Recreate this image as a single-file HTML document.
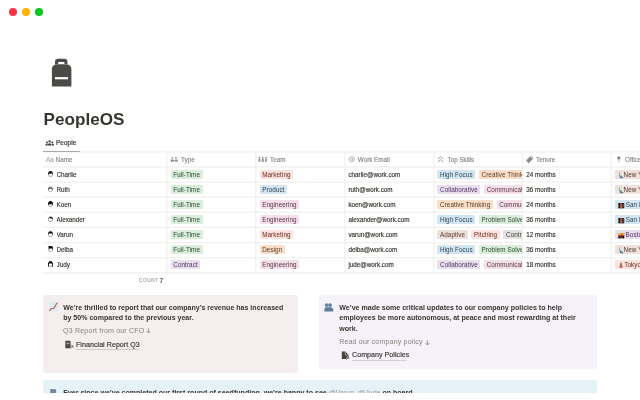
<!DOCTYPE html>
<html><head><meta charset="utf-8">
<style>
*{box-sizing:border-box;margin:0;padding:0}
html,body{width:640px;height:400px;overflow:hidden;background:#fff}
body{position:relative;font-family:"Liberation Sans",Arial,sans-serif;color:#37352f}
.a{position:absolute}
.dot{position:absolute;width:8px;height:8px;border-radius:50%;top:8.1px}
.title{position:absolute;left:43.6px;top:109px;font-size:17.1px;font-weight:bold;line-height:22px;color:#37352f;white-space:nowrap}
.tab{position:absolute;left:45px;top:137px;height:12px;font-size:6.3px;line-height:12px;white-space:nowrap;-webkit-text-stroke:0.2px #37352f;letter-spacing:0.12px}
.hline{position:absolute;left:0;height:1px;background:#eeeeed}
.hl{position:absolute;height:1px;background:#ededeb}
.vl{position:absolute;width:1px;background:#ededeb}
.vline{position:absolute;width:1px;background:#eeeeed}
.row{position:absolute;left:42.67px;width:600px;height:15.07px}
.c{position:absolute;top:0;height:15.07px;overflow:hidden;white-space:nowrap;font-size:6.3px;line-height:15.07px;-webkit-text-stroke:0.15px currentColor}
.hdt{font-size:6.3px;line-height:15px;color:#85847f;white-space:nowrap;-webkit-text-stroke:0.12px #85847f}
.tg{display:inline-block;height:8.9px;line-height:8.9px;padding:0.9px 2.67px 0;border-radius:1.33px;margin-right:3.6px;vertical-align:top;margin-top:3.05px;font-size:6.3px}
.tg{-webkit-text-stroke:0px;letter-spacing:0.08px}
.green{background:#dbeddb;color:#2a4535}
.red{background:#ffe2dd;color:#6a2a26}
.blue{background:#d3e5ef;color:#2a4558}
.pink{background:#f5e0e9;color:#5a3346}
.purple{background:#e8deee;color:#4f3562}
.orange{background:#fadec9;color:#583a22}
.brown{background:#eee0da;color:#543a2e}
.gray{background:#e3e2e0;color:#42403c}
.hic{display:inline-block;vertical-align:top;margin-top:4.7px;margin-right:2.1px}
.aa{font-size:6.6px;color:#b9b8b5}
.emo{display:inline-block;vertical-align:top}
.av{display:inline-block;vertical-align:top;margin-top:4.6px;margin-left:1.4px;margin-right:3.2px}
.em{display:inline-block;width:4px;height:5.2px;vertical-align:top;margin-top:1.8px;margin-right:1.3px}
.ny{background:linear-gradient(160deg,#7fb2c9 0 30%,#3f7f9e 30% 100%);width:2.6px;margin-left:0.6px;border-radius:0.5px}
.sf{background:#6b3a2a;box-shadow:inset 0 0 0 0.6px #3a2a2a}
.bos{background:linear-gradient(#f0a040 0 45%,#7a3a3a 45% 100%)}
.tk{background:linear-gradient(#c0492f,#8a3a2a);width:2.4px;margin-left:0.8px;clip-path:polygon(50% 0,100% 100%,0 100%)}
.callout{position:absolute;border-radius:1.8px}
.ct{position:absolute;font-size:7.05px;line-height:10.5px;font-weight:bold;color:#37352f;white-space:nowrap}
.cg{position:absolute;font-size:7.05px;line-height:10.5px;color:#858480;white-space:nowrap;letter-spacing:0.17px}
.arr{display:inline-block;vertical-align:top;margin-top:2.8px;margin-left:-0.2px}
.cl{position:absolute;font-size:7.05px;line-height:10.5px;color:#37352f;white-space:nowrap;-webkit-text-stroke:0.15px currentColor;letter-spacing:0.06px}
</style></head><body>
<div class="dot" style="left:8.7px;background:#ff3447"></div>
<div class="dot" style="left:22px;background:#ffb300"></div>
<div class="dot" style="left:35.3px;background:#00c81e"></div>

<!-- backpack icon -->
<svg class="a" style="left:0;top:0" width="100" height="100" viewBox="0 0 100 100">
  <path fill="#4b4a46" d="M58 58.7h6.4a3 3 0 0 1 3 3V64.6H55V61.7a3 3 0 0 1 3-3z"/>
  <path fill="#4b4a46" d="M56.6 64.4h10.2a4.6 4.6 0 0 1 4.6 4.6V86.5H51.9V69a4.6 4.6 0 0 1 4.6-4.6z"/>
  <rect x="58" y="62" width="6.6" height="2.1" rx="1" fill="#fff"/>
  <rect x="55" y="77.1" width="13" height="2.2" fill="#fff"/>
</svg>

<div class="title">PeopleOS</div>

<svg class="a" style="left:45px;top:139.6px" width="10" height="6" viewBox="0 0 10 6">
 <circle cx="4.6" cy="1.45" r="1.15" fill="#37352f"/>
 <circle cx="2.0" cy="2.5" r="0.95" fill="#37352f"/>
 <circle cx="7.3" cy="2.5" r="0.95" fill="#37352f"/>
 <path d="M2.9 5.5Q2.9 3.2 4.6 3.2Q6.4 3.2 6.4 5.5z" fill="#37352f"/>
 <path d="M0.3 5.5Q0.3 3.8 1.9 3.7Q2.9 3.8 2.8 5.5z" fill="#37352f"/>
 <path d="M6.5 5.5Q6.5 3.8 7.5 3.7Q9.1 3.8 9.1 5.5z" fill="#37352f"/>
</svg>
<div class="tab" style="left:56px">People</div>
<div class="a" style="left:42.7px;top:150.8px;width:37.1px;height:1.4px;background:#37352f"></div>

<div class="hl" style="top:151px;left:43px;width:597px;opacity:0.63"></div><div class="hl" style="top:152px;left:43px;width:597px;opacity:0.42"></div>
<div class="hl" style="top:166px;left:43px;width:597px;opacity:0.53"></div><div class="hl" style="top:167px;left:43px;width:597px;opacity:0.53"></div>
<div class="hl" style="top:181px;left:43px;width:597px;opacity:0.46"></div><div class="hl" style="top:182px;left:43px;width:597px;opacity:0.59"></div>
<div class="hl" style="top:196px;left:43px;width:597px;opacity:0.40"></div><div class="hl" style="top:197px;left:43px;width:597px;opacity:0.65"></div>
<div class="hl" style="top:211px;left:43px;width:597px;opacity:0.34"></div><div class="hl" style="top:212px;left:43px;width:597px;opacity:0.71"></div>
<div class="hl" style="top:226px;left:43px;width:597px;opacity:0.28"></div><div class="hl" style="top:227px;left:43px;width:597px;opacity:0.77"></div>
<div class="hl" style="top:242px;left:43px;width:597px;opacity:0.77"></div><div class="hl" style="top:243px;left:43px;width:597px;opacity:0.28"></div>
<div class="hl" style="top:257px;left:43px;width:597px;opacity:0.71"></div><div class="hl" style="top:258px;left:43px;width:597px;opacity:0.34"></div>
<div class="hl" style="top:272px;left:43px;width:597px;opacity:0.65"></div><div class="hl" style="top:273px;left:43px;width:597px;opacity:0.40"></div>
<div class="vl" style="left:166px;top:152px;height:121px;opacity:0.69"></div><div class="vl" style="left:167px;top:152px;height:121px;opacity:0.36"></div>
<div class="vl" style="left:255px;top:152px;height:121px;opacity:0.66"></div><div class="vl" style="left:256px;top:152px;height:121px;opacity:0.39"></div>
<div class="vl" style="left:344px;top:152px;height:121px;opacity:0.74"></div><div class="vl" style="left:345px;top:152px;height:121px;opacity:0.31"></div>
<div class="vl" style="left:433px;top:152px;height:121px;opacity:0.69"></div><div class="vl" style="left:434px;top:152px;height:121px;opacity:0.36"></div>
<div class="vl" style="left:521px;top:152px;height:121px;opacity:0.31"></div><div class="vl" style="left:522px;top:152px;height:121px;opacity:0.74"></div>
<div class="vl" style="left:610px;top:152px;height:121px;opacity:0.36"></div><div class="vl" style="left:611px;top:152px;height:121px;opacity:0.69"></div>
<div class="a hdt" style="left:45.9px;top:152.0px"><span class="aa">Aa</span></div>
<div class="a hdt" style="left:55.6px;top:152.0px">Name</div>
<div class="a" style="left:169.9px;top:155.9px;line-height:0"><svg width="9" height="8" viewBox="0 0 9 8"><circle cx="2.35" cy="1.85" r="0.9" fill="#8c8b87"/><circle cx="5.95" cy="1.85" r="0.9" fill="#8c8b87"/><rect x="0.6" y="3.6" width="3.4" height="2.2" rx="0.8" fill="#8c8b87"/><rect x="4.6" y="3.6" width="3.1" height="2.2" rx="0.8" fill="#8c8b87"/></svg></div>
<div class="a hdt" style="left:181.0px;top:152.0px">Type</div>
<div class="a" style="left:258.4px;top:155.9px;line-height:0"><svg width="10" height="8" viewBox="0 0 10 8"><circle cx="1.5" cy="1.7" r="0.85" fill="#8c8b87"/><rect x="0.6" y="2.8" width="1.8" height="3" rx="0.6" fill="#8c8b87"/><circle cx="4.8" cy="1.7" r="0.85" fill="#8c8b87"/><rect x="3.9" y="2.8" width="1.8" height="2.3" rx="0.6" fill="#8c8b87"/><rect x="3.3" y="5.1" width="3" height="0.7" fill="#8c8b87"/><circle cx="8" cy="1.7" r="0.85" fill="#8c8b87"/><rect x="7.1" y="2.8" width="1.8" height="3" rx="0.6" fill="#8c8b87"/></svg></div>
<div class="a hdt" style="left:270.0px;top:152.0px">Team</div>
<div class="a" style="left:348.3px;top:155.9px;line-height:0"><svg width="9" height="8" viewBox="0 0 9 8"><circle cx="3.6" cy="3.3" r="2.75" fill="none" stroke="#a9a8a5" stroke-width="0.75"/><circle cx="3.6" cy="3.3" r="1.05" fill="none" stroke="#a9a8a5" stroke-width="0.7"/><path d="M4.65 2.4V3.9Q4.7 4.7 5.6 4.4" fill="none" stroke="#a9a8a5" stroke-width="0.6"/></svg></div>
<div class="a hdt" style="left:357.8px;top:152.0px">Work Email</div>
<div class="a" style="left:437.2px;top:155.9px;line-height:0"><svg width="9" height="8" viewBox="0 0 9 8"><path d="M0.9 3.1L3.6 0.6L6.3 3.1M0.9 6.1L3.6 3.6L6.3 6.1" fill="none" stroke="#8c8b87" stroke-width="0.85"/></svg></div>
<div class="a hdt" style="left:447.5px;top:152.0px">Top Skills</div>
<div class="a" style="left:526.0px;top:155.9px;line-height:0"><svg width="9" height="8" viewBox="0 0 9 8"><path d="M3.6 0.5L6.3 0.5L6.3 3.2L2.8 6.7Q2.3 7.2 1.8 6.7L0.1 5Q-0.4 4.5 0.1 4z" fill="#8c8b87" transform="translate(0.4,0)"/><circle cx="5.5" cy="1.5" r="0.55" fill="#fff"/></svg></div>
<div class="a hdt" style="left:536.0px;top:152.0px">Tenure</div>
<div class="a" style="left:616.6px;top:155.9px;line-height:0"><svg width="9" height="8" viewBox="0 0 9 8"><circle cx="1.9" cy="1.9" r="1.65" fill="#8c8b87"/><rect x="1.6" y="3" width="0.6" height="3.5" fill="#8c8b87"/></svg></div>
<div class="a hdt" style="left:625.0px;top:152.0px">Office</div>
<div class="row" style="top:167.00px"><div class="c" style="left:13.9px;width:100px"><span class="nm">Charlie</span></div><div class="c" style="left:127.99px;width:85.04px"><span class="tg green">Full-Time</span></div><div class="c" style="left:216.89px;width:85.04px"><span class="tg red">Marketing</span></div><div class="c" style="left:305.79px;width:85.04px">charlie@work.com</div><div class="c" style="left:394.69px;width:85.04px"><span class="tg blue">High Focus</span><span class="tg orange">Creative Thinking</span></div><div class="c" style="left:483.59px;width:85.04px">24 months</div><div class="c" style="left:572.49px;width:85.04px"><span class="tg brown"><svg class="emo" width="5.8" height="7" viewBox="0 0 5.8 7" style="margin-top:1.1px"><rect x="1.05" y="0.2" width="0.9" height="3.6" rx="0.3" fill="#6fb894"/><path d="M1.6 3.2C2.6 3 3.4 3.6 3.7 4.4L5.3 5.3L5.1 6.3H2.1C1.8 5.3 1.6 4.2 1.6 3.2z" fill="#4b7f9c"/><circle cx="2.6" cy="3.6" r="0.6" fill="#7fb6c8"/></svg>New York</span></div></div>
<svg class="a" style="left:47.6px;top:171.30px" width="5" height="6" viewBox="0 0 5 6"><ellipse cx="2.5" cy="3.2" rx="2.1" ry="2.5" fill="#fff" stroke="#555" stroke-width="0.5"/><path d="M0.2 3.8C-0.1 1.1 1.1 0.1 2.5 0.1S5.1 1.1 4.8 3.8L4.3 3.2C3.9 2.9 3.6 2.6 3.4 2.3C2.6 2.8 1.6 3 0.7 3.1z" fill="#111"/></svg>
<div class="row" style="top:182.00px"><div class="c" style="left:13.9px;width:100px"><span class="nm">Ruth</span></div><div class="c" style="left:127.99px;width:85.04px"><span class="tg green">Full-Time</span></div><div class="c" style="left:216.89px;width:85.04px"><span class="tg blue">Product</span></div><div class="c" style="left:305.79px;width:85.04px">ruth@work.com</div><div class="c" style="left:394.69px;width:85.04px"><span class="tg purple">Collaborative</span><span class="tg pink">Communication</span></div><div class="c" style="left:483.59px;width:85.04px">36 months</div><div class="c" style="left:572.49px;width:85.04px"><span class="tg brown"><svg class="emo" width="5.8" height="7" viewBox="0 0 5.8 7" style="margin-top:1.1px"><rect x="1.05" y="0.2" width="0.9" height="3.6" rx="0.3" fill="#6fb894"/><path d="M1.6 3.2C2.6 3 3.4 3.6 3.7 4.4L5.3 5.3L5.1 6.3H2.1C1.8 5.3 1.6 4.2 1.6 3.2z" fill="#4b7f9c"/><circle cx="2.6" cy="3.6" r="0.6" fill="#7fb6c8"/></svg>New York</span></div></div>
<svg class="a" style="left:47.6px;top:186.30px" width="5" height="6" viewBox="0 0 5 6"><ellipse cx="2.5" cy="3.2" rx="2.1" ry="2.5" fill="#fff" stroke="#555" stroke-width="0.5"/><path d="M0.3 2.6C0.7 1 4.3 1 4.7 2.6L4.8 4.4L4.1 3.1C3 2.4 2 2.4 0.9 3.1L0.2 4.4z" fill="#333"/></svg>
<div class="row" style="top:197.00px"><div class="c" style="left:13.9px;width:100px"><span class="nm">Koen</span></div><div class="c" style="left:127.99px;width:85.04px"><span class="tg green">Full-Time</span></div><div class="c" style="left:216.89px;width:85.04px"><span class="tg pink">Engineering</span></div><div class="c" style="left:305.79px;width:85.04px">koen@work.com</div><div class="c" style="left:394.69px;width:85.04px"><span class="tg orange">Creative Thinking</span><span class="tg pink">Communication</span></div><div class="c" style="left:483.59px;width:85.04px">24 months</div><div class="c" style="left:572.49px;width:85.04px"><span class="tg blue"><svg class="emo" width="7.9" height="7" viewBox="0 0 7.9 7" style="margin-top:1.7px"><rect x="0.25" y="0.05" width="6" height="5.3" rx="0.5" fill="#2b1d1a"/><rect x="2.2" y="0.5" width="2.1" height="4.8" fill="#c25a3c"/><rect x="0.3" y="1.6" width="0.7" height="2.4" fill="#5a86a8"/><rect x="5.5" y="1.6" width="0.7" height="2.4" fill="#5a86a8"/></svg>San Francisco</span></div></div>
<svg class="a" style="left:47.6px;top:201.30px" width="5" height="6" viewBox="0 0 5 6"><ellipse cx="2.5" cy="3.2" rx="2.1" ry="2.5" fill="#fff" stroke="#555" stroke-width="0.5"/><path d="M0.1 4.2C-0.2 1.2 1.1 0 2.5 0S5.2 1.2 4.9 4.2L4.4 3.4C3.4 3.2 1.6 3.2 0.6 3.4z" fill="#0a0a0a"/></svg>
<div class="row" style="top:212.00px"><div class="c" style="left:13.9px;width:100px"><span class="nm">Alexander</span></div><div class="c" style="left:127.99px;width:85.04px"><span class="tg green">Full-Time</span></div><div class="c" style="left:216.89px;width:85.04px"><span class="tg pink">Engineering</span></div><div class="c" style="left:305.79px;width:85.04px">alexander@work.com</div><div class="c" style="left:394.69px;width:85.04px"><span class="tg blue">High Focus</span><span class="tg green">Problem Solver</span></div><div class="c" style="left:483.59px;width:85.04px">36 months</div><div class="c" style="left:572.49px;width:85.04px"><span class="tg blue"><svg class="emo" width="7.9" height="7" viewBox="0 0 7.9 7" style="margin-top:1.7px"><rect x="0.25" y="0.05" width="6" height="5.3" rx="0.5" fill="#2b1d1a"/><rect x="2.2" y="0.5" width="2.1" height="4.8" fill="#c25a3c"/><rect x="0.3" y="1.6" width="0.7" height="2.4" fill="#5a86a8"/><rect x="5.5" y="1.6" width="0.7" height="2.4" fill="#5a86a8"/></svg>San Francisco</span></div></div>
<svg class="a" style="left:47.6px;top:216.30px" width="5" height="6" viewBox="0 0 5 6"><ellipse cx="2.5" cy="3.2" rx="2.1" ry="2.5" fill="#fff" stroke="#555" stroke-width="0.5"/><path d="M0.8 2.4C1.2 0.9 3.8 0.5 4.7 2L4.8 3.2C3.6 2.3 2.2 2.2 0.8 2.4z" fill="#111"/></svg>
<div class="row" style="top:227.00px"><div class="c" style="left:13.9px;width:100px"><span class="nm">Varun</span></div><div class="c" style="left:127.99px;width:85.04px"><span class="tg green">Full-Time</span></div><div class="c" style="left:216.89px;width:85.04px"><span class="tg red">Marketing</span></div><div class="c" style="left:305.79px;width:85.04px">varun@work.com</div><div class="c" style="left:394.69px;width:85.04px"><span class="tg brown">Adaptive</span><span class="tg red">Pitching</span><span class="tg gray">Contract</span></div><div class="c" style="left:483.59px;width:85.04px">12 months</div><div class="c" style="left:572.49px;width:85.04px"><span class="tg purple"><svg class="emo" width="7.8" height="7" viewBox="0 0 7.8 7" style="margin-top:1.7px"><rect x="0.25" y="0.05" width="6" height="5.3" rx="0.5" fill="#5b2b1c"/><rect x="0.25" y="0.05" width="3.2" height="2.2" fill="#fbc22a"/><rect x="3.4" y="0.05" width="2.85" height="2.2" fill="#f6a02e"/><rect x="2.6" y="0.5" width="1.5" height="1.5" fill="#f2607a"/><rect x="0.25" y="2.2" width="1" height="1" fill="#e9506a"/><rect x="0.6" y="4" width="1.2" height="1.3" fill="#1a1010"/><rect x="4.6" y="3.4" width="1.4" height="1.9" fill="#1a1010"/></svg>Boston</span></div></div>
<svg class="a" style="left:47.6px;top:231.30px" width="5" height="6" viewBox="0 0 5 6"><ellipse cx="2.5" cy="3.2" rx="2.1" ry="2.5" fill="#fff" stroke="#555" stroke-width="0.5"/><path d="M0.2 3.7C0 1.1 1.1 0.2 2.5 0.2S5 1.1 4.8 3.7L4.2 2.8C3 2.5 2 2.5 0.8 2.8z" fill="#0d0d0d"/></svg>
<div class="row" style="top:242.00px"><div class="c" style="left:13.9px;width:100px"><span class="nm">Delba</span></div><div class="c" style="left:127.99px;width:85.04px"><span class="tg green">Full-Time</span></div><div class="c" style="left:216.89px;width:85.04px"><span class="tg orange">Design</span></div><div class="c" style="left:305.79px;width:85.04px">delba@work.com</div><div class="c" style="left:394.69px;width:85.04px"><span class="tg blue">High Focus</span><span class="tg green">Problem Solver</span></div><div class="c" style="left:483.59px;width:85.04px">36 months</div><div class="c" style="left:572.49px;width:85.04px"><span class="tg brown"><svg class="emo" width="5.8" height="7" viewBox="0 0 5.8 7" style="margin-top:1.1px"><rect x="1.05" y="0.2" width="0.9" height="3.6" rx="0.3" fill="#6fb894"/><path d="M1.6 3.2C2.6 3 3.4 3.6 3.7 4.4L5.3 5.3L5.1 6.3H2.1C1.8 5.3 1.6 4.2 1.6 3.2z" fill="#4b7f9c"/><circle cx="2.6" cy="3.6" r="0.6" fill="#7fb6c8"/></svg>New York</span></div></div>
<svg class="a" style="left:47.6px;top:246.30px" width="5" height="6" viewBox="0 0 5 6"><ellipse cx="2.5" cy="3.2" rx="2.1" ry="2.5" fill="#fff" stroke="#555" stroke-width="0.5"/><path d="M-0.3 0.9L1.2 0.1C2.2 -0.2 3.9 -0.1 4.8 0.9 5.2 1.6 5 3 4.8 3.8L4.1 2.5H1.7L1.2 3.8 0.9 1.7z" fill="#0d0d0d"/></svg>
<div class="row" style="top:257.00px"><div class="c" style="left:13.9px;width:100px"><span class="nm">Judy</span></div><div class="c" style="left:127.99px;width:85.04px"><span class="tg purple">Contract</span></div><div class="c" style="left:216.89px;width:85.04px"><span class="tg pink">Engineering</span></div><div class="c" style="left:305.79px;width:85.04px">jude@work.com</div><div class="c" style="left:394.69px;width:85.04px"><span class="tg purple">Collaborative</span><span class="tg pink">Communication</span></div><div class="c" style="left:483.59px;width:85.04px">18 months</div><div class="c" style="left:572.49px;width:85.04px"><span class="tg red"><svg class="emo" width="6.4" height="7" viewBox="0 0 6.4 7" style="margin-top:1.4px"><path d="M3 0.1L3.2 0.1L4.8 5.4H1.3z" fill="#a94a2c"/><rect x="2.5" y="1.2" width="1.2" height="0.9" fill="#5aa0a0"/><rect x="1.6" y="3.2" width="3" height="0.5" fill="#e6c0a8"/></svg>Tokyo</span></div></div>
<svg class="a" style="left:47.6px;top:261.30px" width="5" height="6" viewBox="0 0 5 6"><ellipse cx="2.5" cy="3.2" rx="2.1" ry="2.5" fill="#fff" stroke="#555" stroke-width="0.5"/><path d="M-0.1 6C-0.4 2.2 0.7 0 2.5 0S5.4 2.2 5.1 6L4.2 5.5V2.9C3.2 2.4 1.8 2.4 0.8 2.9V5.5z" fill="#0d0d0d"/></svg>

<div class="a" style="left:139.1px;top:277.0px;font-size:4.6px;letter-spacing:0.62px;line-height:8px;color:#9c9b97;-webkit-text-stroke:0.12px #9c9b97">COUNT</div>
<div class="a" style="left:159.6px;top:276.0px;font-size:6.6px;line-height:10px;color:#4a4844;-webkit-text-stroke:0.2px #4a4844">7</div>

<div class="callout" style="left:42.7px;top:294.75px;width:255.4px;height:77.8px;background:#f4eeee"></div>
<div class="callout" style="left:318.75px;top:294.75px;width:278.25px;height:73.85px;background:#f6f2f9"></div>
<div class="callout" style="left:42.7px;top:380.2px;width:554.3px;height:30px;background:#e5f2f8"></div>

<!-- chart emoji -->
<svg class="a" style="left:49.2px;top:302.2px" width="9" height="9.6" viewBox="0 0 9 9.6">
 <rect x="0.1" y="0.1" width="8.7" height="9.3" rx="0.7" fill="#dde9f1"/>
 <path d="M0.2 3.2H8.7M0.2 6.2H8.7M3 0.2V9.3M5.9 0.2V9.3" stroke="#eef4f8" stroke-width="0.35"/>
 <path d="M0.6 8.4C1.4 6.8 2.2 6.4 3.6 6.5C5 6.6 5.5 5.8 6.2 4.2C6.8 2.8 7.3 1.8 8.1 1.1" fill="none" stroke="#b4573d" stroke-width="1.05" stroke-linecap="round"/>
</svg>
<div class="ct" style="left:63.2px;top:303.0px">We’re thrilled to report that our company’s revenue has increased</div>
<div class="ct" style="left:63.2px;top:313.4px">by 50% compared to the previous year.</div>
<div class="cg" style="left:63.1px;top:325.5px">Q3 Report from our CFO <svg class="arr" width="5" height="6" viewBox="0 0 5 6"><path d="M2.4 0.3V5M0.5 3.1L2.4 5L4.3 3.1" fill="none" stroke="#8a8985" stroke-width="0.85"/></svg></div>
<svg class="a" style="left:64.8px;top:340.2px" width="9" height="9" viewBox="0 0 9 9">
 <path d="M0.9 0.8H4.6L5.6 1.8V8.3H0.9Q0.3 8.3 0.3 7.7V1.4Q0.3 0.8 0.9 0.8z" fill="#46443f"/>
 <rect x="1.3" y="2.8" width="3.3" height="0.8" fill="#f4eeee" opacity="0.9"/>
 <rect x="1.3" y="4.8" width="2.6" height="0.5" fill="#f4eeee" opacity="0.5"/>
 <path d="M5.2 8.6L7.6 6.2M6.1 5.9H7.9V7.7" fill="none" stroke="#f4eeee" stroke-width="1.3"/>
 <path d="M5.2 8.6L7.6 6.2M6.1 5.9H7.9V7.7" fill="none" stroke="#3a3834" stroke-width="0.7"/>
</svg>
<div class="cl" style="left:76px;top:339.5px">Financial Report Q3</div>
<div class="a" style="left:76px;top:348.5px;width:62.5px;height:0.6px;background:#cfcac8"></div>

<!-- busts emoji -->
<svg class="a" style="left:324.3px;top:303.0px" width="10" height="9" viewBox="0 0 10 9">
 <circle cx="2.6" cy="2.1" r="1.85" fill="#6a8aa3"/>
 <circle cx="6.0" cy="2.1" r="1.85" fill="#5f7f99"/>
 <path d="M0.4 8.6V6.4Q0.4 4.4 2.6 4.3H6.6Q9.2 4.4 9.2 6.6V8.6z" fill="#5d7c96"/>
 <path d="M4.3 4.4V8.6" stroke="#6f8ea6" stroke-width="0.3"/>
</svg>
<div class="ct" style="left:339.25px;top:303.0px">We’ve made some critical updates to our company policies to help</div>
<div class="ct" style="left:339.25px;top:313.4px">employees be more autonomous, at peace and most rewarding at their</div>
<div class="ct" style="left:339.25px;top:324.0px">work.</div>
<div class="cg" style="left:339.2px;top:337.0px">Read our company policy <svg class="arr" width="5" height="6" viewBox="0 0 5 6"><path d="M2.4 0.3V5M0.5 3.1L2.4 5L4.3 3.1" fill="none" stroke="#8a8985" stroke-width="0.85"/></svg></div>
<svg class="a" style="left:340.6px;top:351.4px" width="9" height="9" viewBox="0 0 9 9">
 <path d="M0.8 0.6H4.3L7.8 4.1V7.9H0.8z" fill="#46443f"/>
 <path d="M4.4 0.6V4.1H7.8" fill="none" stroke="#f6f2f9" stroke-width="0.5"/>
 <path d="M5.1 8.7L7.3 6.5M5.9 6.1H7.7V7.9" fill="none" stroke="#f6f2f9" stroke-width="1.4"/>
 <path d="M5.1 8.7L7.3 6.5M5.9 6.1H7.7V7.9" fill="none" stroke="#3a3834" stroke-width="0.7"/>
</svg>
<div class="cl" style="left:352px;top:350.2px">Company Policies</div>
<div class="a" style="left:352px;top:359.9px;width:55px;height:0.6px;background:#d3cdd8"></div>

<!-- blue callout -->
<svg class="a" style="left:50.3px;top:389.4px" width="7" height="6" viewBox="0 0 7 6">
 <rect x="0.2" y="0.3" width="5.9" height="5" rx="0.5" fill="#71879b"/><rect x="0.8" y="0" width="2.2" height="0.8" rx="0.3" fill="#71879b"/>
</svg>
<div class="ct" style="left:63.2px;top:388.3px">Ever since we’ve completed our first round of seedfunding, we’re happy to see <span style="color:#9b9a97;font-weight:normal">@Varun</span>, <span style="color:#9b9a97;font-weight:normal">@Jude</span> on board</div>
<div class="a" style="left:0;top:393.4px;width:640px;height:7px;background:#fff"></div>

</body></html>
